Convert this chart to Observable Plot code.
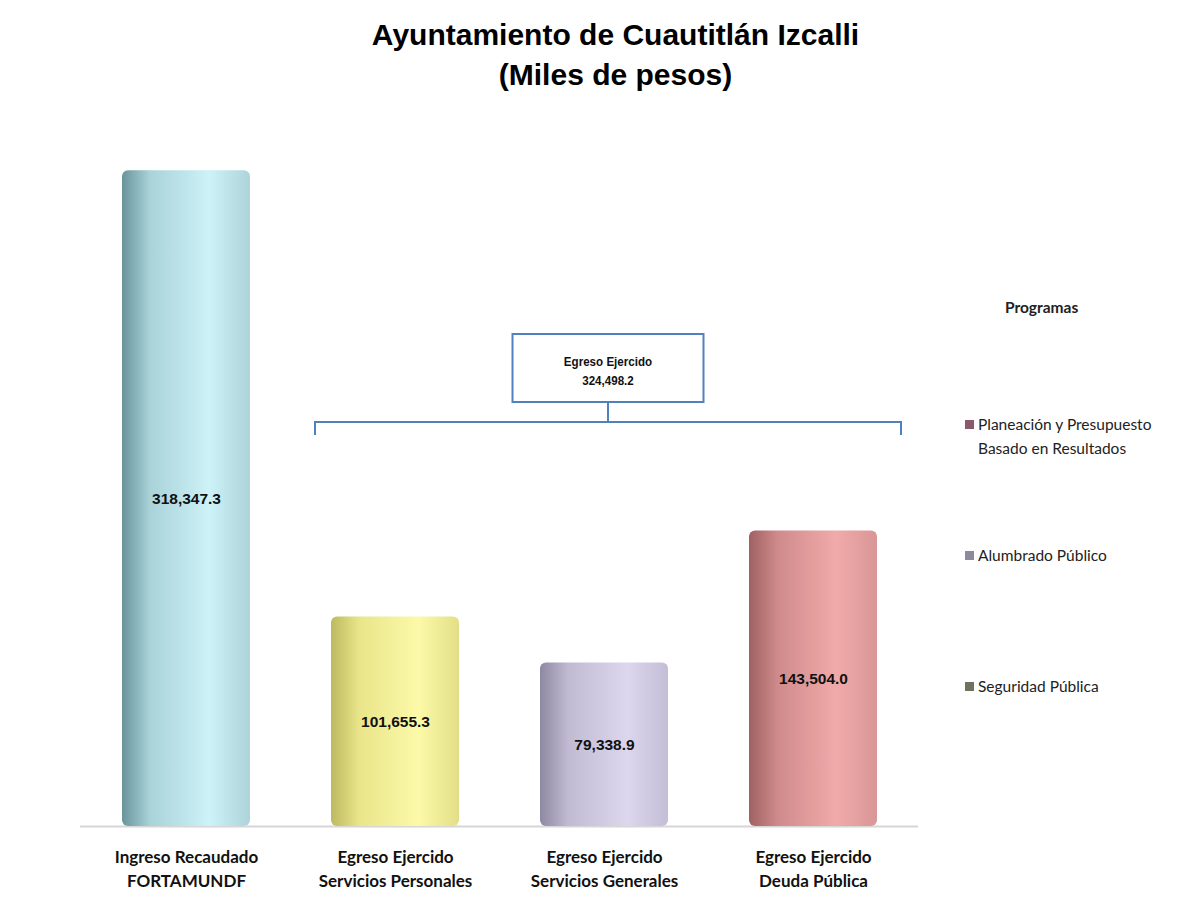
<!DOCTYPE html>
<html>
<head>
<meta charset="utf-8">
<script src="https://cdn.jsdelivr.net/npm/d3@7"></script>
<script src="https://cdn.jsdelivr.net/npm/@observablehq/plot@0.6"></script>
<style>
  html, body { margin: 0; padding: 0; background: #fff; }
  #wrap { position: relative; width: 1203px; height: 905px; overflow: hidden; }
  #title { height: 100px; box-sizing: border-box; padding-top: 15px; padding-left: 28px; text-align: center;
           font-family: "Liberation Sans", Arial, sans-serif; font-weight: bold; font-size: 30px; line-height: 40px; color: #000; }
  .leg { position: absolute; font-family: Lato, "Open Sans", sans-serif; font-size: 15.5px; color: #222; line-height: 24px; }
  .sw { position: absolute; width: 9px; height: 9px; }
</style>
</head>
<body>
<div id="wrap">
  <div id="title">Ayuntamiento de Cuautitlán Izcalli<br>(Miles de pesos)</div>
  <div id="chart"></div>
</div>
<script>
// ---- data ----
const categories = [
  "Ingreso Recaudado\nFORTAMUNDF",
  "Egreso Ejercido\nServicios Personales",
  "Egreso Ejercido\nServicios Generales",
  "Egreso Ejercido\nDeuda Pública"
];
const values = [318347.3, 101655.3, 79338.9, 143504.0];
// cylinder shading stops per bar: [edge dark, mid, highlight, right]
const barShades = [
  ["#6a949b", "#a9d2d9", "#cdf2f8", "#aed4da"],
  ["#bdb960", "#e9e58a", "#fcf9a8", "#e3df88"],
  ["#8e88a2", "#c0bad3", "#dcd7ed", "#c3bdd6"],
  ["#a06062", "#cf8a8b", "#f1aaaa", "#d99697"]
];
const annotationLabel = "Egreso Ejercido";
const annotationValue = 324498.2;
const legendTitle = "Programas";
const legendLabels = ["Planeación y Presupuesto\nBasado en Resultados", "Alumbrado Público", "Seguridad Pública"];
const legendColors = ["#8a5a68", "#8c8a9c", "#6f725f"];

const data = categories.map((c, i) => ({cat: c, value: values[i], i}));
const fmt = d3.format(",.1f");

const plot = Plot.plot({
  width: 1203,
  height: 805,
  marginTop: 5,
  marginBottom: 79,
  marginLeft: 80,
  marginRight: 285,
  style: {fontFamily: "'Liberation Sans', Arial, sans-serif", background: "transparent"},
  x: {domain: categories, paddingInner: 0.388, paddingOuter: 0.194},
  y: {domain: [0, 350000], axis: null},
  color: {type: "identity"},
  marks: [
    Plot.ruleY([0], {stroke: "#d6d6d6", strokeWidth: 2}),
    Plot.barY(data, {x: "cat", y: "value", fill: d => `url(#cyl${d.i})`, rx: 6}),
    Plot.text(data, {x: "cat", y: d => d.value / 2, text: d => fmt(d.value), fontWeight: "bold", fontSize: 15.5, fill: "#111"}),
    Plot.axisX({tickSize: 0, tickPadding: 19, fontFamily: "Lato, 'Open Sans', sans-serif", fontWeight: "bold", fontSize: 17, lineHeight: 1.42, fill: "#111", label: null})
  ]
});

document.getElementById("chart").appendChild(plot);

// gradients for cylinder look
const svg = d3.select(plot);
const defs = svg.insert("defs", ":first-child");
barShades.forEach((s, i) => {
  const g = defs.append("linearGradient").attr("id", `cyl${i}`).attr("x1", 0).attr("x2", 1).attr("y1", 0).attr("y2", 0);
  [[0, s[0]], [0.22, s[1]], [0.68, s[2]], [1, s[3]]].forEach(([o, c]) =>
    g.append("stop").attr("offset", o).attr("stop-color", c));
});

// annotation bracket and box, positioned from the x scale
const xs = plot.scale("x");
const bw = xs.bandwidth;
const left = xs.apply(categories[1]) - 16;
const right = xs.apply(categories[3]) + bw + 24;
const cx = (left + right) / 2;
const by = 322, boxTop = 234, boxH = 68, boxW = 191;
const ann = svg.append("g").attr("fill", "none").attr("stroke", "#4f81bd").attr("stroke-width", 2);
ann.append("path").attr("d", `M${left},${by + 13}V${by}H${right}V${by + 13}M${cx},${by}V${boxTop + boxH}`);
ann.append("rect").attr("x", cx - boxW / 2).attr("y", boxTop).attr("width", boxW).attr("height", boxH).attr("fill", "#fff");
const at = svg.append("text").attr("text-anchor", "middle").attr("font-weight", "bold").attr("font-size", 13.5)
  .attr("transform", `translate(${cx},0) scale(0.86,1)`)
  .attr("font-family", "'Liberation Sans Narrow', 'Liberation Sans', Arial, sans-serif").attr("fill", "#111");
at.append("tspan").attr("x", 0).attr("y", boxTop + 32).text(annotationLabel);
at.append("tspan").attr("x", 0).attr("y", boxTop + 51).text(fmt(annotationValue));

// legend (HTML, right side)
const wrap = document.getElementById("wrap");
const lt = document.createElement("div");
lt.className = "leg"; lt.style.left = "1005px"; lt.style.top = "295px"; lt.style.fontWeight = "bold";
lt.textContent = legendTitle; wrap.appendChild(lt);
const legTops = [412, 543, 674];
legendLabels.forEach((lab, i) => {
  const d = document.createElement("div");
  d.className = "leg"; d.style.left = "978px"; d.style.top = legTops[i] + "px";
  d.innerHTML = lab.split("\n").join("<br>");
  wrap.appendChild(d);
  const s = document.createElement("div");
  s.className = "sw"; s.style.left = "965px"; s.style.top = (legTops[i] + 8) + "px"; s.style.background = legendColors[i];
  wrap.appendChild(s);
});
</script>
</body>
</html>
